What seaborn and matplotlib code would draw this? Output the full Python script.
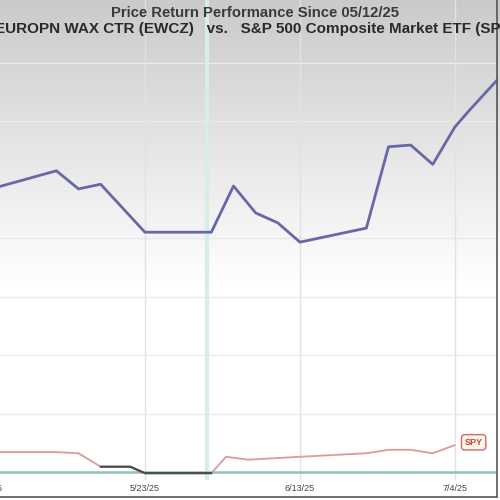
import matplotlib
matplotlib.use("Agg")
import matplotlib.pyplot as plt
import numpy as np
import pandas as pd
import seaborn as sns

title = "Price Return Performance Since 05/12/25"
subtitle = "EUROPN WAX CTR (EWCZ)   vs.   S&P 500 Composite Market ETF (SPY)"

# EWCZ return (%)
ewcz_dates = ["2025-05-03", "2025-05-11", "2025-05-14", "2025-05-17", "2025-05-23",
              "2025-06-01", "2025-06-04", "2025-06-07", "2025-06-10", "2025-06-13",
              "2025-06-22", "2025-06-25", "2025-06-28", "2025-07-01", "2025-07-04",
              "2025-07-06", "2025-07-10"]
ewcz_ret = [48.7, 51.5, 48.4, 49.2, 41.0, 41.0, 48.9, 44.3, 42.6, 39.3,
            41.7, 55.6, 55.9, 52.6, 59.0, 61.9, 67.4]

# SPY return (%)
spy_dates = ["2025-05-03", "2025-05-11", "2025-05-14", "2025-05-17", "2025-05-21",
             "2025-05-23", "2025-06-01", "2025-06-03", "2025-06-06", "2025-06-13",
             "2025-06-22", "2025-06-25", "2025-06-28", "2025-07-01", "2025-07-04"]
spy_ret = [3.4, 3.4, 3.2, 0.9, 0.9, -0.2, -0.2, 2.6, 2.1, 2.6,
           3.2, 3.8, 3.8, 3.2, 4.6]

tick_dates = ["2025-05-02", "2025-05-23", "2025-06-13", "2025-07-04"]
tick_labels = ["5/2/25", "5/23/25", "6/13/25", "7/4/25"]
marker_date = "2025-05-31 09:00"

ewcz = pd.DataFrame({"date": pd.to_datetime(ewcz_dates), "ret": ewcz_ret})
spy = pd.DataFrame({"date": pd.to_datetime(spy_dates), "ret": spy_ret})

sns.set_style("white")
plt.rcParams["font.family"] = ["Liberation Sans", "DejaVu Sans"]

fig = plt.figure(figsize=(5, 5), dpi=100)

# grey-to-white background gradient
bg = fig.add_axes([0, 0, 1, 1], zorder=0)
rows = np.linspace(0, 1, 500)
shade = np.clip(0.79 + 0.21 * rows / 0.58, 0, 1)
bg.imshow(shade[:, None], aspect="auto", cmap="gray", vmin=0, vmax=1,
          extent=[0, 1, 0, 1])
bg.axis("off")

ax = fig.add_axes([-0.06, 0.04, 1.054, 0.96], zorder=1)
ax.set_facecolor("none")

for y in range(10, 80, 10):
    ax.axhline(y, color="#ebebeb", lw=1, zorder=1)
for d in tick_dates:
    ax.axvline(pd.Timestamp(d), color="#e2e2e2", lw=1, zorder=1)
ax.axvline(pd.Timestamp(marker_date), color="#d5efe8", lw=3, zorder=1)
ax.axhline(0, color="#8cc4b6", lw=1.8, zorder=2)

sns.lineplot(data=ewcz, x="date", y="ret", ax=ax, color="#6868a6", lw=2.0, zorder=3)
sns.lineplot(data=spy, x="date", y="ret", ax=ax, color="#dc9a9a", lw=1.3, zorder=3)
low = spy[(spy["date"] >= "2025-05-17") & (spy["date"] <= "2025-06-01")]
sns.lineplot(data=low, x="date", y="ret", ax=ax, color="#4a4a4a", lw=1.6, zorder=4)

last = spy.iloc[-1]
ax.annotate("SPY", xy=(last["date"], last["ret"]), xytext=(7, 2),
            textcoords="offset points", ha="left", va="center",
            fontsize=6.5, fontweight="bold", color="#c84040",
            bbox=dict(boxstyle="round,pad=0.35", fc="#fff6ea", ec="#d06a6a", lw=1),
            annotation_clip=False, zorder=5)

start = pd.Timestamp("2025-05-23")
ax.set_xlim(start + pd.Timedelta(days=-23.7), start + pd.Timedelta(days=47.7))
ax.set_ylim(-1.37, 80.7)
ax.set_xticks(pd.to_datetime(tick_dates))
ax.set_xticklabels(tick_labels, fontsize=6.5, color="#444444")
ax.set_yticks([])
ax.tick_params(axis="x", length=0, pad=3)
ax.set_xlabel("")
ax.set_ylabel("")
for s in ax.spines.values():
    s.set_visible(False)

fig.text(0.51, 1 - 13 / 500, title, ha="center", va="center",
         fontsize=10.7, fontweight="bold", color="#3a3a3a")
fig.text(0.51, 1 - 29 / 500, subtitle, ha="center", va="center",
         fontsize=11, fontweight="bold", color="#2a2a2a")

# image frame on right and bottom
fig.add_artist(plt.Line2D([0.994, 0.994], [0.006, 1], transform=fig.transFigure,
                          color="#555555", lw=1.2))
fig.add_artist(plt.Line2D([0, 0.994], [0.006, 0.006], transform=fig.transFigure,
                          color="#555555", lw=1.2))

fig.savefig("out.png", dpi=100)
